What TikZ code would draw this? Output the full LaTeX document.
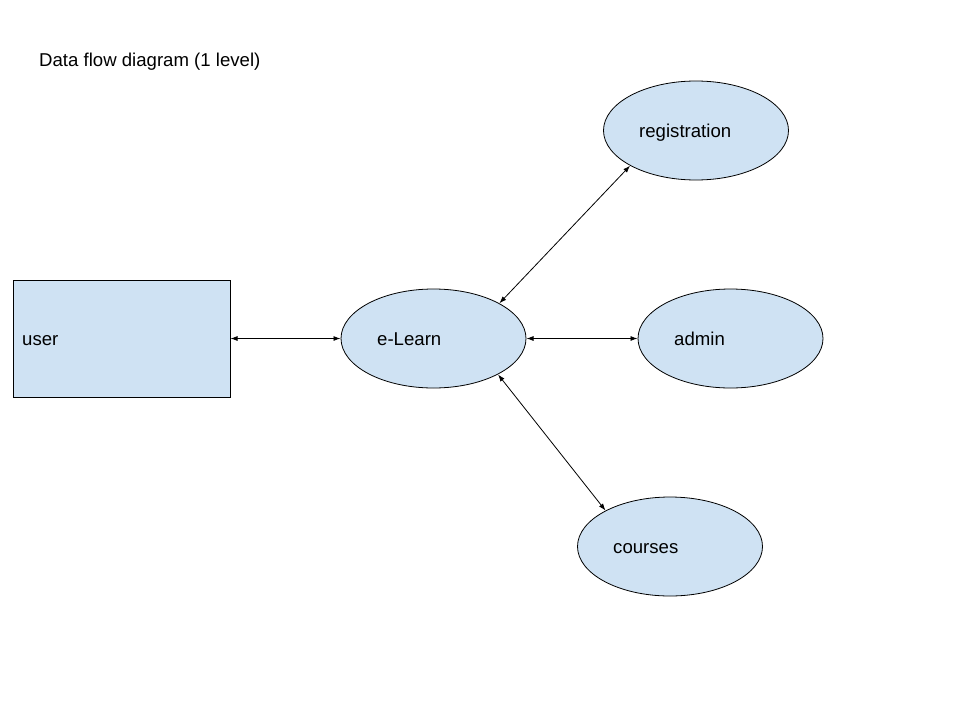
\documentclass[tikz,border=0pt]{standalone}
\usepackage{fontspec}
\setmainfont{Liberation Sans}
\usetikzlibrary{shapes.geometric,arrows.meta}
\definecolor{procfill}{HTML}{CFE2F3}
\tikzset{
  proc/.style={ellipse,draw=black,fill=procfill,line width=0.8pt,minimum width=185pt,minimum height=99pt,inner sep=0pt,outer sep=0pt},
  entity/.style={rectangle,draw=black,fill=procfill,line width=0.8pt,minimum width=217pt,minimum height=117pt,inner sep=0pt,outer sep=0pt},
  lbl/.style={anchor=base west,inner sep=0pt,font=\fontsize{18.6}{22}\selectfont},
  flow/.style={line width=0.8pt,{Latex[length=7pt,width=5pt]}-{Latex[length=7pt,width=5pt]},shorten <=0.5pt,shorten >=0.5pt}
}
\begin{document}
\begin{tikzpicture}[x=1pt,y=-1pt]
\useasboundingbox (0,0) rectangle (960,720);
\node[lbl] (title) at (39,66.5) {Data flow diagram (1 level)};
\node[entity] (user) at (121.5,338.5) {};
\node[lbl] (userT) at (22,345.5) {user};
\node[proc] (elearn) at (433.5,338.5) {};
\node[lbl] (elearnT) at (377,345.5) {e-Learn};
\node[proc] (reg) at (696,130.5) {};
\node[lbl] (regT) at (639,137.5) {registration};
\node[proc] (admin) at (730.5,338.5) {};
\node[lbl] (adminT) at (674,345.5) {admin};
\node[proc] (courses) at (670,546.5) {};
\node[lbl] (coursesT) at (613,553.5) {courses};
\draw[flow] (user.east) -- (elearn.west);
\draw[flow] (elearn.east) -- (admin.west);
\draw[flow] (elearn.28.8) -- (reg.208.6);
\draw[flow] (elearn.-29.4) -- (courses.151.7);
\end{tikzpicture}
\end{document}
